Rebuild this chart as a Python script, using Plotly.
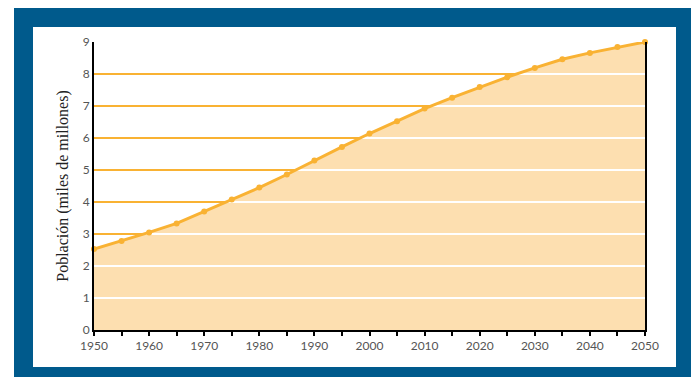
import numpy as np
import plotly.graph_objects as go

years = [1950, 1955, 1960, 1965, 1970, 1975, 1980, 1985, 1990, 1995, 2000,
         2005, 2010, 2015, 2020, 2025, 2030, 2035, 2040, 2045, 2050]
population = [2.53, 2.78, 3.05, 3.33, 3.70, 4.08, 4.45, 4.86, 5.30, 5.72, 6.14,
              6.52, 6.92, 7.26, 7.59, 7.90, 8.19, 8.46, 8.66, 8.84, 9.00]
x_ticks = list(range(1950, 2051, 10))
y_ticks = list(range(0, 10))
grid_levels = list(range(1, 9))
y_title = "Población (miles de millones)"

LINE = "#F9B233"
FILL = "#FDDFB0"
BLUE = "#005A8C"

W, H = 691, 377
ml, mr, mt, mb = 94, 46, 42, 47
pw, ph = W - ml - mr, H - mt - mb

def px(x):
    return (x - ml) / pw

def py(y):
    return (H - mb - y) / ph

fig = go.Figure()

# orange grid lines (full width; hidden under the area)
gx, gy = [], []
for k in grid_levels:
    gx += [years[0], years[-1], None]
    gy += [k, k, None]
fig.add_trace(go.Scatter(x=gx, y=gy, mode="lines", line=dict(color=LINE, width=2),
                         hoverinfo="skip", showlegend=False))

# area
fig.add_trace(go.Scatter(x=years, y=population, mode="lines", fill="tozeroy",
                         fillcolor=FILL, line=dict(width=0, color=FILL),
                         hoverinfo="skip", showlegend=False))

# white grid lines inside the area
wx, wy = [], []
for k in grid_levels:
    if k <= population[0]:
        xs = years[0]
    else:
        xs = float(np.interp(k, population, years))
    wx += [xs, years[-1], None]
    wy += [k, k, None]
fig.add_trace(go.Scatter(x=wx, y=wy, mode="lines", line=dict(color="white", width=2),
                         hoverinfo="skip", showlegend=False))

# curve
fig.add_trace(go.Scatter(x=years, y=population, mode="lines+markers",
                         line=dict(color=LINE, width=3),
                         marker=dict(color=LINE, size=6),
                         cliponaxis=False, showlegend=False))

shapes = [
    dict(type="rect", xref="paper", yref="paper", layer="below",
         x0=px(14), x1=px(691), y0=py(377), y1=py(8),
         fillcolor=BLUE, line=dict(width=0)),
    dict(type="rect", xref="paper", yref="paper", layer="below",
         x0=px(33), x1=px(676), y0=py(367), y1=py(27),
         fillcolor="white", line=dict(width=0)),
]

fig.update_layout(
    width=W, height=H,
    margin=dict(l=ml, r=mr, t=mt, b=mb),
    paper_bgcolor="white", plot_bgcolor="rgba(0,0,0,0)",
    shapes=shapes,
    xaxis=dict(range=[1950, 2050], tickvals=x_ticks, showgrid=False, zeroline=False,
               showline=True, linecolor="black", linewidth=2,
               ticks="outside", tickcolor="black", ticklen=4, tickwidth=2,
               minor=dict(ticks="outside", tickvals=years, ticklen=4, tickwidth=2, tickcolor="black"),
               tickfont=dict(family="Lato", size=12, color="#555555")),
    yaxis=dict(range=[0, 9], tickvals=y_ticks, showgrid=False, zeroline=False,
               showline=True, linecolor="black", linewidth=2, mirror=True,
               ticks="", tickfont=dict(family="Lato", size=12, color="#555555"),
               title=dict(text=y_title, font=dict(family="Liberation Serif", size=16, color="#222222"),
                          standoff=10)),
)

fig.write_html("out.html")
